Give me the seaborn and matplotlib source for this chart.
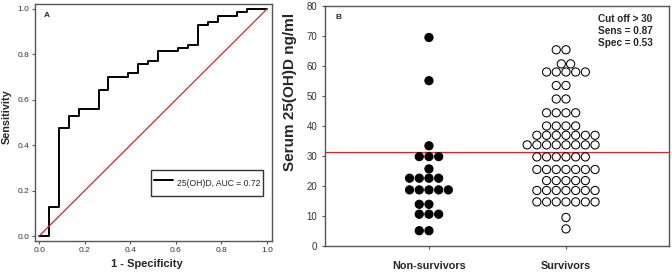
import numpy as np
import pandas as pd
import seaborn as sns
import matplotlib
matplotlib.use('Agg')
import matplotlib.pyplot as plt

# ROC curve (panel A)
fpr = [0.0, 0.044, 0.087, 0.130, 0.174, 0.261, 0.304, 0.391, 0.435, 0.478,
       0.522, 0.609, 0.652, 0.696, 0.739, 0.783, 0.870, 0.913, 1.0]
tpr = [0.0, 0.129, 0.475, 0.529, 0.560, 0.645, 0.700, 0.716, 0.757, 0.773,
       0.816, 0.830, 0.843, 0.929, 0.943, 0.971, 0.986, 1.0, 1.0]
roc_label = '25(OH)D, AUC = 0.72'

# serum 25(OH)D values (panel B)
non_survivors = [69.5, 55.1, 33.4, 29.8, 29.8, 29.8, 25.7,
                 22.6, 22.6, 22.6, 22.6, 18.7, 18.7, 18.7, 18.7, 18.7,
                 13.9, 13.9, 10.6, 10.6, 10.6, 5.1, 5.1]
survivors = [65.4, 65.4, 60.7, 60.7, 58.0, 58.0, 58.0, 58.0, 58.0,
             53.5, 53.5, 49.0, 49.0, 44.4, 44.4, 44.4, 44.4,
             40.0, 40.0, 40.0, 40.0,
             36.9, 36.9, 36.9, 36.9, 36.9, 36.9, 36.9,
             33.7, 33.7, 33.7, 33.7, 33.7, 33.7, 33.7, 33.7,
             29.7, 29.7, 29.7, 29.7, 29.7, 29.7,
             25.5, 25.5, 25.5, 25.5, 25.5, 25.5, 25.5,
             21.8, 21.8, 21.8, 21.8, 21.8,
             18.5, 18.5, 18.5, 18.5, 18.5, 18.5, 18.5,
             14.7, 14.7, 14.7, 14.7, 14.7, 14.7, 14.7,
             9.5, 5.7]
groups = ['Non-survivors', 'Survivors']
cutoff = 31.3
cut_text = 'Cut off > 30\nSens = 0.87\nSpec = 0.53'

sns.set_style('ticks')
plt.rcParams['font.family'] = ['Liberation Sans', 'DejaVu Sans']

spine_col = '#555555'
fig = plt.figure(figsize=(6.72, 2.76), dpi=100)
ax1 = fig.add_axes([0.0521, 0.1268, 0.3527, 0.8587])
ax2 = fig.add_axes([0.4836, 0.1087, 0.5119, 0.8696])

# --- panel A
sns.lineplot(x=fpr, y=tpr, ax=ax1, color='black', lw=1.4, sort=False,
             estimator=None, drawstyle='steps-post', label=roc_label)
sns.lineplot(x=[0, 1], y=[0, 1], ax=ax1, color='#d02828', lw=0.9)
ax1.set_xlim(-0.018, 1.022)
ax1.set_ylim(-0.022, 1.022)
ticks = np.arange(0, 1.01, 0.2)
ax1.set_xticks(ticks)
ax1.set_yticks(ticks)
ax1.set_xticklabels(['%.1f' % v for v in ticks])
ax1.set_yticklabels(['%.1f' % v for v in ticks])
ax1.tick_params(labelsize=6, length=2.2, width=0.8, pad=2, color=spine_col,
                labelcolor='#333333')
ax1.set_xlabel('1 - Specificity', fontsize=8, fontweight='bold')
ax1.set_ylabel('Sensitivity', fontsize=7.8, fontweight='bold')
ax1.xaxis.set_label_coords(0.473, -0.075)
ax1.yaxis.set_label_coords(-0.098, 0.523)
ax1.text(0.05, 0.95, 'A', transform=ax1.transAxes, fontsize=6,
         fontweight='bold', va='center', ha='center')
leg = ax1.legend(loc='lower right', bbox_to_anchor=(0.962, 0.19), fontsize=6.2,
                 frameon=True, fancybox=False, edgecolor='black',
                 handlelength=2.2, handleheight=3.1, borderpad=0.35,
                 handletextpad=0.4, borderaxespad=0)
leg.get_frame().set_linewidth(1.0)

# --- panel B
df = pd.DataFrame({
    'group': ['Non-survivors'] * len(non_survivors) + ['Survivors'] * len(survivors),
    'value': non_survivors + survivors,
})
sns.swarmplot(data=df, x='group', y='value', hue='group', order=groups,
              palette={'Non-survivors': 'black', 'Survivors': 'white'},
              edgecolor='black', linewidth=0.75, size=5.9, legend=False, ax=ax2)
ax2.axhline(cutoff, color='#d02828', lw=0.9)
ax2.set_xlim(-0.759, 1.752)
ax2.set_ylim(0, 80)
ax2.set_yticks(range(0, 81, 10))
ax2.tick_params(axis='y', labelsize=6.9, length=2.2, width=0.8, pad=3.5,
                color=spine_col, labelcolor='#333333')
ax2.tick_params(axis='x', labelsize=7.8, length=2, width=0.8, pad=9,
                color=spine_col)
for lab in ax2.get_xticklabels():
    lab.set_fontweight('bold')
ax2.set_xlabel('')
ax2.set_ylabel('Serum 25(OH)D ng/ml', fontsize=11, fontweight='bold')
ax2.yaxis.set_label_coords(-0.081, 0.64)
ax2.text(0.04, 0.95, 'B', transform=ax2.transAxes, fontsize=6,
         fontweight='bold', va='center', ha='center')
ax2.text(0.795, 0.965, cut_text, transform=ax2.transAxes, fontsize=7.2,
         fontweight='bold', va='top', ha='left', linespacing=1.2)

for ax in (ax1, ax2):
    for side in ax.spines:
        ax.spines[side].set_visible(True)
        ax.spines[side].set_color(spine_col)
        ax.spines[side].set_linewidth(1.0)

fig.savefig('out.png', dpi=100)
